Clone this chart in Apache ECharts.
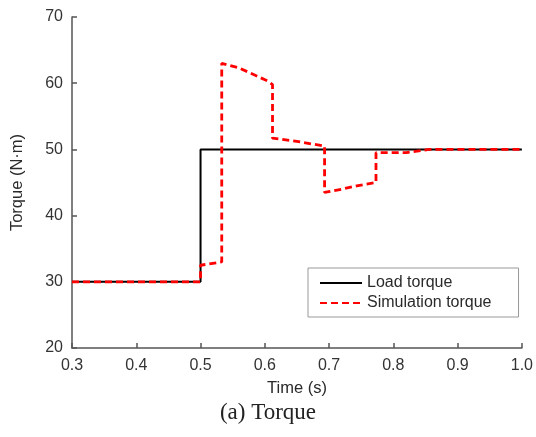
<!DOCTYPE html>
<html>
<head>
<meta charset="utf-8">
<script src="https://cdn.jsdelivr.net/npm/echarts@6/dist/echarts.min.js"></script>
<style>html,body{margin:0;padding:0;background:#fff;}#c{width:536px;height:437px;}</style>
</head>
<body>
<div id="c"></div>
<script>
var loadTime   = [0.3, 0.5, 0.5, 1.0];
var loadTorque = [30, 30, 50, 50];
var simTime   = [0.3, 0.5, 0.5, 0.533, 0.533, 0.56, 0.585, 0.605, 0.612, 0.612, 0.65, 0.693, 0.693, 0.72, 0.743, 0.773, 0.773, 0.82, 0.856, 1.0];
var simTorque = [30, 30, 32.5, 33, 63, 62.3, 61.2, 60.3, 59.8, 51.7, 51.2, 50.5, 43.5, 44.0, 44.5, 45.0, 49.5, 49.5, 50, 50];
var seriesNames = ['Load torque', 'Simulation torque'];
var xTitle = 'Time (s)';
var yTitle = 'Torque (N\u00b7m)';
var caption = '(a) Torque';

function pairs(xs, ys){ return xs.map(function(x,i){ return [x, ys[i]]; }); }

var chart = echarts.init(document.getElementById('c'));
var font = 'Liberation Sans, Arial, sans-serif';
chart.setOption({
  animation: false,
  grid: {left: 72, right: 13, top: 17, bottom: 89},
  xAxis: {
    type: 'value', min: 0.3, max: 1.0, interval: 0.1,
    name: xTitle, nameLocation: 'middle', nameGap: 32,
    nameTextStyle: {fontFamily: font, fontSize: 16.5, color: '#2a2a2a'},
    axisLine: {lineStyle: {color: '#555', width: 1.5}},
    axisTick: {inside: true, length: 5, lineStyle: {color: '#555', width: 1.5}},
    axisLabel: {fontFamily: font, fontSize: 16, color: '#333', margin: 10,
      formatter: function(v){ return v.toFixed(1); }},
    splitLine: {show: false}
  },
  yAxis: {
    type: 'value', min: 20, max: 70, interval: 10,
    name: yTitle, nameLocation: 'middle', nameGap: 46,
    nameTextStyle: {fontFamily: font, fontSize: 16.5, color: '#2a2a2a'},
    axisLine: {show: true, lineStyle: {color: '#555', width: 1.5}},
    axisTick: {show: true, inside: true, length: 5, lineStyle: {color: '#555', width: 1.5}},
    axisLabel: {fontFamily: font, fontSize: 16, color: '#333', margin: 9},
    splitLine: {show: false}
  },
  legend: {
    orient: 'vertical', left: 308, top: 268, width: 200,
    padding: [7, 27, 6, 11], itemGap: 4,
    borderColor: '#999', borderWidth: 1, backgroundColor: '#fff',
    itemWidth: 42, itemHeight: 16,
    itemStyle: {opacity: 0},
    textStyle: {fontFamily: font, fontSize: 16, color: '#2a2a2a'},
    data: seriesNames
  },
  series: [
    {name: seriesNames[0], type: 'line', data: pairs(loadTime, loadTorque),
     symbol: 'none', lineStyle: {color: '#000', width: 2}, itemStyle: {color: '#000'}, z: 2},
    {name: seriesNames[1], type: 'line', data: pairs(simTime, simTorque),
     symbol: 'none', lineStyle: {color: '#ff0000', width: 2.8, type: [7, 4]}, itemStyle: {color: '#ff0000'}, z: 3}
  ],
  graphic: [{
    type: 'text', left: 'center', top: 401,
    style: {text: caption, fontFamily: 'Liberation Serif, Times New Roman, serif', fontSize: 23, fill: '#222'}
  }]
});
</script>
</body>
</html>
